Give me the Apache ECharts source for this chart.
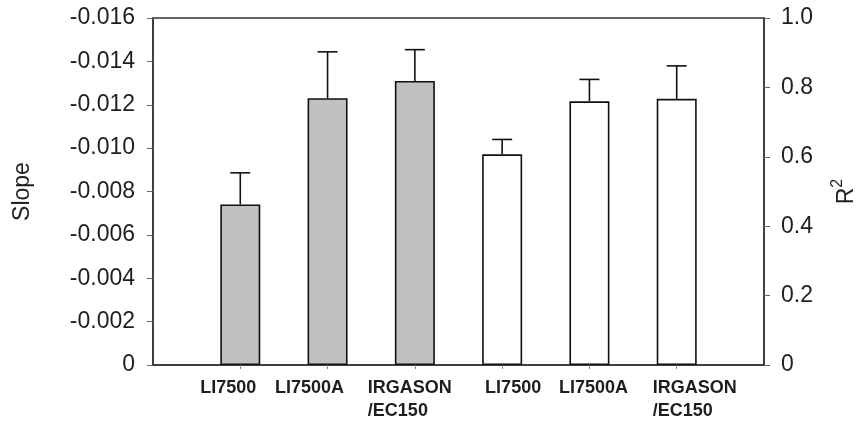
<!DOCTYPE html>
<html>
<head>
<meta charset="utf-8">
<script src="https://cdn.jsdelivr.net/npm/echarts@6/dist/echarts.min.js"></script>
<style>
html,body{margin:0;padding:0;background:#fff;}
#chart{width:866px;height:421px;}
</style>
</head>
<body>
<div id="chart"></div>
<script>
// ---- data ----
const categories = ['LI7500', 'LI7500A', 'IRGASON\n/EC150', 'LI7500', 'LI7500A', 'IRGASON\n/EC150'];
const slopeMean = [-0.0074, -0.0123, -0.0131];
const slopeErr = [0.00146, 0.00214, 0.00144];
const r2Mean = [0.607, 0.760, 0.767];
const r2Err = [0.043, 0.063, 0.095];
const slopeTicks = [-0.016, 0];
const r2Ticks = [0, 1];

// ---- styling (label horizontal nudges, px) ----
const labelShift = [-12, -18, -5, 11, 4, 18];
const textColor = '#1e1e1e';
const lineColor = '#333';

// axis slots: an empty slot at each end, categories in between
const axisCats = [''].concat(categories, ['']);
const slopePos = slopeMean.map((v, i) => i + 1);
const r2Pos = r2Mean.map((v, i) => slopeMean.length + i + 1);

const slopeBars = axisCats.map((c, k) => { const i = slopePos.indexOf(k); return i >= 0 ? slopeMean[i] : '-'; });
const r2Bars = axisCats.map((c, k) => { const i = r2Pos.indexOf(k); return i >= 0 ? r2Mean[i] : '-'; });
const slopeErrData = slopeMean.map((v, i) => [slopePos[i], v, v - slopeErr[i]]);
const r2ErrData = r2Mean.map((v, i) => [r2Pos[i], v, v + r2Err[i]]);

const rich = {};
categories.forEach((c, i) => {
  const d = labelShift[i];
  const pad = d >= 0 ? [0, 0, 0, 2 * d] : [0, -2 * d, 0, 0];
  rich['a' + i] = {fontFamily: 'Liberation Sans, Arial', fontWeight: 'bold', fontSize: 18, lineHeight: 23, color: textColor, padding: pad, align: 'left'};
});

function renderErr(params, api) {
  const x = api.value(0), m = api.value(1), t = api.value(2);
  const p0 = api.coord([x, m]);
  const p1 = api.coord([x, t]);
  const hw = 10;
  const st = {stroke: '#111', lineWidth: 1.6};
  return {
    type: 'group',
    children: [
      {type: 'line', shape: {x1: p0[0], y1: p0[1], x2: p1[0], y2: p1[1]}, style: st},
      {type: 'line', shape: {x1: p1[0] - hw, y1: p1[1], x2: p1[0] + hw, y2: p1[1]}, style: st}
    ]
  };
}

const chart = echarts.init(document.getElementById('chart'), null, {renderer: 'canvas'});

chart.setOption({
  animation: false,
  backgroundColor: '#fff',
  grid: {left: 153, right: 97, top: 18, bottom: 56, show: true, borderColor: lineColor, borderWidth: 1.5, backgroundColor: 'transparent'},
  xAxis: {
    type: 'category',
    data: axisCats,
    boundaryGap: false,
    splitLine: {show: false},
    axisLine: {show: true, lineStyle: {color: lineColor, width: 1.5}},
    axisTick: {show: true, interval: (idx) => idx > 0 && idx < axisCats.length - 1, length: 4, lineStyle: {color: '#888', width: 1}},
    axisLabel: {
      interval: 0,
      hideOverlap: false,
      margin: 12,
      formatter: function (val, idx) {
        const i = idx - 1;
        if (i < 0 || i >= categories.length) return '';
        return categories[i].split('\n').map(s => '{a' + i + '|' + s + '}').join('\n');
      },
      rich: rich
    }
  },
  yAxis: [
    {
      type: 'value',
      min: slopeTicks[0],
      max: slopeTicks[1],
      interval: 0.002,
      inverse: true,
      position: 'left',
      name: 'Slope',
      nameLocation: 'middle',
      nameGap: 119,
      nameTextStyle: {fontFamily: 'Liberation Sans, Arial', fontSize: 23, color: textColor},
      splitLine: {show: false},
      axisLine: {show: true, lineStyle: {color: lineColor, width: 1.5}},
      axisTick: {show: true, length: 6, lineStyle: {color: '#666', width: 1}},
      axisLabel: {
        margin: 18,
        fontFamily: 'Liberation Sans, Arial',
        fontSize: 23,
        color: textColor,
        formatter: v => Math.abs(v) < 1e-9 ? '0' : v.toFixed(3)
      }
    },
    {
      type: 'value',
      min: r2Ticks[0],
      max: r2Ticks[1],
      interval: 0.2,
      position: 'right',
      name: '{r|R}{s|2}',
      nameLocation: 'middle',
      nameGap: 66,
      nameTextStyle: {
        color: textColor,
        rich: {
          r: {fontFamily: 'Liberation Sans, Arial', fontSize: 23, lineHeight: 28, color: textColor, verticalAlign: 'bottom'},
          s: {fontFamily: 'Liberation Sans, Arial', fontSize: 16, lineHeight: 28, color: textColor, verticalAlign: 'top'}
        }
      },
      splitLine: {show: false},
      axisLine: {show: true, lineStyle: {color: lineColor, width: 1.5}},
      axisTick: {show: true, length: 6, lineStyle: {color: '#666', width: 1}},
      axisLabel: {
        margin: 17,
        fontFamily: 'Liberation Sans, Arial',
        fontSize: 23,
        color: textColor,
        formatter: v => Math.abs(v) < 1e-9 ? '0' : v.toFixed(1)
      }
    }
  ],
  series: [
    {
      type: 'bar',
      yAxisIndex: 0,
      data: slopeBars,
      barWidth: 40,
      barGap: '-100%',
      itemStyle: {color: '#c0c0c0', borderColor: '#111', borderWidth: 1.6}
    },
    {
      type: 'bar',
      yAxisIndex: 1,
      data: r2Bars,
      barWidth: 40,
      barGap: '-100%',
      itemStyle: {color: '#ffffff', borderColor: '#111', borderWidth: 1.6}
    },
    {type: 'custom', yAxisIndex: 0, data: slopeErrData, renderItem: renderErr, z: 5},
    {type: 'custom', yAxisIndex: 1, data: r2ErrData, renderItem: renderErr, z: 5}
  ]
});
</script>
</body>
</html>
